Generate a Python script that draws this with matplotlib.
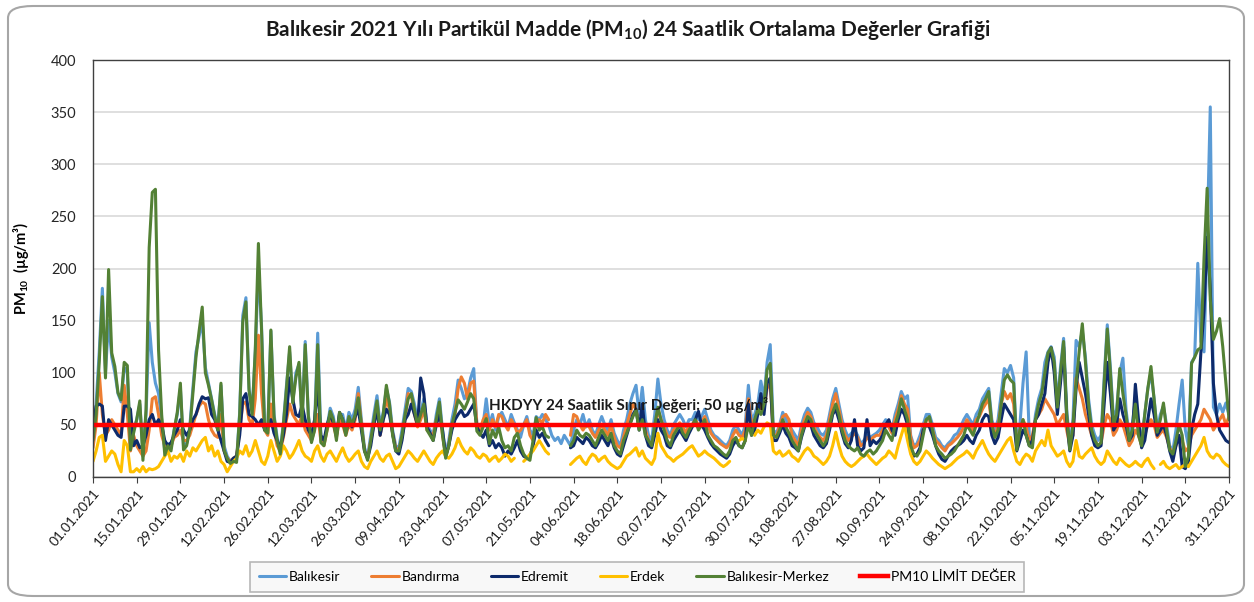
import numpy as np
import pandas as pd
import matplotlib.pyplot as plt
import matplotlib.dates as mdates
from matplotlib.patches import FancyBboxPatch

nan = np.nan

plt.rcParams['font.family'] = ['Lato', 'DejaVu Sans']
plt.rcParams['mathtext.fontset'] = 'custom'
plt.rcParams['mathtext.rm'] = 'Lato'
plt.rcParams['mathtext.bf'] = 'Lato:bold'

# Daily PM10 values, 01.01.2021 - 31.12.2021 (one row = 14 days)
balikesir = [
    40, 70, 120, 181, 100, 150, 115, 100, 80, 72, 105, 100, 30, 45,
    55, 70, 25, 60, 148, 110, 90, 80, 55, 25, 32, 28, 45, 60,
    85, 30, 32, 48, 85, 120, 135, 150, 105, 90, 75, 60, 48, 88,
    30, 20, 15, 18, 16, 62, 155, 172, 85, 62, 120, 200, 145, 50,
    45, 140, 60, 38, 25, 52, 88, 120, 72, 100, 108, 55, 130, 60,
    35, 50, 138, 40, 32, 48, 66, 58, 40, 60, 60, 45, 62, 55,
    65, 86, 55, 28, 20, 40, 60, 78, 50, 62, 85, 72, 45, 30,
    28, 45, 65, 85, 82, 70, 55, 62, 75, 50, 45, 40, 60, 75,
    45, 22, 35, 55, 70, 93, 85, 75, 80, 95, 104, 50, 48, 50,
    75, 50, 60, 45, 58, 62, 55, 48, 60, 52, 45, 38, 50, 58,
    45, 40, 58, 55, 60, 55, 50, 40, 35, 38, 32, 40, 35, 30,
    45, 55, 50, 60, 48, 55, 45, 40, 50, 58, 50, 45, 55, 42,
    35, 30, 45, 55, 70, 80, 88, 60, 86, 55, 40, 35, 60, 94,
    70, 55, 45, 40, 50, 55, 60, 55, 48, 55, 55, 62, 55, 58,
    65, 55, 45, 40, 38, 35, 32, 30, 35, 45, 50, 45, 40, 50,
    88, 55, 60, 70, 92, 75, 110, 127, 45, 42, 50, 62, 55, 50,
    45, 40, 35, 50, 60, 66, 62, 52, 48, 42, 40, 45, 60, 75,
    85, 70, 55, 45, 38, 42, 45, 40, 32, 35, 40, 38, 40, 42,
    45, 50, 55, 50, 45, 60, 70, 82, 75, 78, 40, 30, 32, 40,
    50, 60, 60, 50, 38, 35, 30, 28, 32, 35, 40, 42, 48, 55,
    60, 55, 50, 60, 65, 75, 80, 85, 55, 45, 55, 80, 104, 100,
    107, 95, 30, 50, 90, 120, 40, 35, 60, 75, 85, 110, 120, 125,
    115, 70, 105, 133, 65, 30, 55, 131, 125, 140, 115, 75, 50, 40,
    35, 40, 95, 146, 105, 55, 65, 100, 114, 65, 40, 50, 75, 45,
    35, 60, 85, 100, 75, 45, 60, 68, 50, 30, 25, 45, 70, 93,
    45, 30, 110, 115, 205, 130, 120, 230, 355, 67, 60, 70, 62, 71,
    60,
]

bandirma = [
    28, 50, 100, 60, 40, 45, 55, 50, 45, 40, 88, 60, 25, 40,
    30, 25, 20, 25, 45, 75, 77, 60, 40, 30, 28, 30, 38, 40,
    45, 35, 35, 40, 50, 60, 68, 72, 70, 55, 45, 40, 38, 60,
    25, 18, 15, 18, 20, 45, 70, 72, 55, 50, 75, 136, 80, 45,
    40, 70, 45, 30, 25, 38, 55, 70, 60, 55, 50, 60, 45, 40,
    35, 45, 60, 35, 30, 45, 55, 50, 38, 55, 50, 40, 50, 45,
    55, 80, 50, 25, 18, 35, 50, 68, 40, 55, 75, 65, 42, 28,
    25, 38, 55, 80, 78, 60, 48, 55, 65, 45, 42, 40, 55, 65,
    40, 20, 30, 50, 60, 85, 96, 90, 75, 90, 92, 50, 45, 55,
    60, 45, 55, 48, 60, 58, 50, 45, 55, 50, 42, 45, 50, 55,
    40, 35, 50, 55, 52, 60, 55, nan, nan, nan, nan, nan, nan, 40,
    60, 58, 50, 45, 50, 48, 42, 38, 45, 50, 45, 40, 50, 38,
    30, 28, 38, 50, 60, 70, 65, 50, 60, 45, 35, 30, 45, 65,
    55, 48, 40, 38, 45, 48, 52, 48, 42, 50, 50, 55, 50, 52,
    58, 50, 42, 38, 35, 32, 30, 28, 32, 40, 45, 40, 38, 45,
    75, 50, 55, 60, 70, 65, 85, 90, 40, 40, 48, 58, 60, 55,
    40, 35, 30, 45, 55, 62, 58, 48, 42, 38, 35, 40, 55, 70,
    80, 65, 50, 40, 35, 38, 42, 38, 30, 32, 38, 35, 38, 40,
    40, 45, 50, 48, 42, 55, 65, 78, 70, 65, 38, 28, 30, 35,
    45, 55, 55, 45, 35, 32, 28, 25, 30, 32, 35, 38, 42, 48,
    55, 50, 45, 55, 58, 65, 70, 75, 50, 40, 48, 70, 82, 75,
    80, 70, 30, 45, 55, 48, 35, 40, 55, 60, 65, 75, 70, 65,
    60, 50, 55, 60, 45, 30, 40, 95, 85, 75, 60, 50, 40, 35,
    30, 32, 50, 60, 55, 40, 45, 55, 50, 40, 30, 35, 45, 40,
    30, 40, 50, 55, 50, 38, 42, 45, 38, 28, 22, 30, 38, 35,
    25, 28, 40, 45, 50, 55, 65, 60, 55, 45, 50, 55, 60, 50,
    58,
]

edremit = [
    45, 68, 70, 68, 35, 55, 50, 45, 40, 38, 68, 68, 65, 30,
    35, 28, 30, 40, 55, 60, 50, 55, 50, 35, 30, 33, 40, 45,
    55, 45, 40, 45, 55, 60, 70, 77, 75, 76, 60, 55, 45, 35,
    25, 15, 14, 18, 20, 40, 75, 80, 60, 58, 55, 50, 55, 45,
    48, 55, 42, 35, 28, 40, 60, 95, 75, 60, 58, 69, 55, 45,
    40, 55, 88, 40, 35, 50, 60, 52, 40, 62, 55, 42, 55, 48,
    58, 65, 45, 25, 18, 30, 50, 65, 40, 55, 65, 60, 42, 25,
    22, 35, 55, 60, 70, 60, 50, 95, 80, 48, 42, 35, 50, 60,
    45, 20, 30, 45, 55, 60, 64, 58, 60, 65, 70, 48, 42, 38,
    45, 30, 35, 28, 32, 28, 20, 25, 22, 28, 35, 25, 20, 18,
    20, 30, 45, 38, 42, 35, 30, nan, nan, nan, nan, nan, nan, 28,
    30, 38, 35, 32, 38, 35, 30, 28, 33, 40, 35, 30, 38, 28,
    22, 20, 30, 40, 50, 60, 65, 45, 70, 40, 30, 28, 40, 55,
    45, 40, 30, 28, 35, 40, 45, 40, 35, 42, 48, 55, 63, 50,
    45, 38, 32, 28, 25, 22, 20, 18, 22, 30, 35, 30, 28, 35,
    70, 40, 45, 60, 80, 60, 90, 95, 35, 35, 42, 50, 42, 38,
    30, 28, 25, 38, 48, 55, 50, 40, 35, 30, 28, 32, 45, 60,
    65, 55, 42, 32, 28, 35, 55, 30, 25, 28, 55, 30, 35, 32,
    35, 40, 50, 55, 45, 40, 55, 65, 60, 50, 28, 20, 22, 28,
    45, 50, 48, 40, 30, 22, 17, 15, 20, 25, 28, 30, 32, 35,
    40, 35, 32, 40, 45, 55, 60, 58, 40, 32, 38, 55, 70, 65,
    60, 55, 25, 35, 45, 40, 30, 35, 55, 60, 70, 80, 110, 124,
    100, 60, 90, 125, 55, 25, 40, 85, 110, 95, 80, 60, 40, 30,
    28, 30, 70, 110, 80, 45, 50, 75, 60, 50, 35, 40, 89, 55,
    28, 35, 55, 75, 60, 40, 45, 50, 40, 25, 15, 30, 40, 10,
    8, 15, 45, 60, 70, 120, 160, 230, 180, 90, 60, 45, 40, 35,
    33,
]

erdek = [
    15, 25, 38, 40, 15, 20, 25, 22, 12, 5, 35, 30, 5, 5,
    8, 5, 10, 5, 8, 7, 8, 10, 15, 20, 25, 15, 20, 18,
    22, 15, 25, 20, 28, 25, 30, 35, 38, 25, 30, 20, 25, 15,
    12, 5, 10, 15, 18, 25, 22, 30, 20, 25, 35, 25, 15, 12,
    20, 35, 25, 15, 20, 30, 25, 18, 22, 28, 35, 25, 20, 18,
    15, 25, 30, 20, 15, 22, 25, 20, 15, 22, 28, 20, 15, 18,
    22, 25, 15, 10, 8, 15, 20, 25, 18, 15, 20, 22, 15, 8,
    10, 15, 20, 25, 22, 18, 15, 20, 25, 20, 15, 12, 18, 22,
    25, 20, 18, 22, 28, 37, 30, 25, 22, 28, 25, 20, 18, 22,
    20, 15, 18, 20, 15, 18, 22, 20, 15, 18, nan, nan, 15, 18,
    22, 25, 30, 35, 30, 25, 22, nan, nan, nan, nan, nan, nan, 12,
    15, 18, 20, 15, 12, 18, 22, 20, 15, 18, 20, 15, 12, 10,
    8, 10, 15, 20, 22, 25, 28, 20, 25, 18, 15, 12, 18, 42,
    30, 25, 20, 18, 15, 18, 20, 22, 25, 28, 30, 25, 20, 22,
    25, 22, 20, 18, 15, 12, 10, 12, 15, nan, nan, 35, 37, 35,
    nan, nan, 40, 45, 42, 48, 52, 50, 25, 22, 25, 20, 22, 25,
    20, 18, 15, 20, 25, 28, 25, 20, 18, 15, 12, 15, 20, 30,
    43, 30, 20, 15, 12, 10, 12, 15, 18, 20, 22, 18, 15, 12,
    15, 18, 20, 25, 22, 18, 30, 40, 50, 35, 22, 15, 12, 15,
    20, 25, 22, 18, 15, 12, 10, 8, 10, 12, 15, 18, 20, 22,
    25, 22, 18, 25, 30, 35, 28, 22, 18, 15, 20, 25, 30, 35,
    38, 25, 15, 12, 18, 22, 20, 15, 25, 30, 35, 30, 45, 30,
    25, 20, 22, 25, 15, 10, 15, 35, 20, 18, 22, 25, 28, 20,
    15, 12, 15, 25, 20, 15, 12, 18, 15, 12, 10, 12, 15, 12,
    10, 15, 18, 12, 8, nan, 12, 15, 10, 8, 10, 12, 8, 10,
    12, 10, 15, 20, 25, 30, 38, 25, 20, 18, 22, 20, 15, 12,
    10,
]

merkez = [
    35, 60, 110, 173, 95, 199, 119, 106, 81, 74, 110, 107, 26, 42,
    55, 73, 16, 65, 220, 273, 276, 122, 60, 21, 30, 25, 45, 62,
    90, 26, 30, 45, 80, 115, 140, 163, 100, 88, 74, 58, 45, 90,
    26, 18, 13, 15, 14, 60, 149, 168, 83, 60, 122, 224, 141, 45,
    42, 141, 58, 35, 22, 50, 85, 125, 71, 95, 110, 52, 127, 58,
    33, 45, 127, 33, 30, 45, 63, 55, 35, 62, 55, 40, 58, 50,
    60, 76, 50, 25, 16, 35, 55, 73, 45, 60, 88, 70, 40, 25,
    25, 40, 60, 75, 80, 65, 50, 60, 70, 45, 40, 35, 55, 72,
    40, 18, 30, 50, 62, 74, 70, 65, 72, 80, 75, 44, 40, 48,
    56, 32, 45, 38, 48, 35, 28, 30, 25, 38, 42, 30, 22, 18,
    16, 35, 57, 45, 48, 40, 38, nan, nan, nan, nan, nan, nan, 30,
    35, 45, 40, 38, 42, 40, 35, 30, 38, 45, 40, 35, 42, 30,
    25, 22, 35, 42, 50, 58, 64, 45, 55, 40, 35, 30, 50, 67,
    55, 45, 35, 30, 40, 45, 50, 42, 38, 45, 50, 55, 45, 50,
    55, 40, 35, 30, 28, 25, 22, 20, 25, 35, 38, 30, 28, 35,
    50, 40, 55, 65, 60, 70, 103, 109, 40, 38, 45, 55, 48, 42,
    35, 30, 25, 40, 50, 58, 55, 45, 40, 35, 30, 35, 50, 62,
    70, 60, 45, 35, 30, 27, 25, 28, 22, 20, 24, 26, 22, 25,
    30, 35, 45, 40, 35, 50, 60, 75, 65, 55, 30, 22, 20, 25,
    40, 55, 58, 45, 30, 25, 22, 18, 20, 22, 25, 30, 35, 40,
    50, 45, 40, 50, 60, 70, 75, 82, 50, 38, 45, 70, 93, 98,
    93, 90, 26, 45, 55, 40, 30, 28, 55, 70, 80, 100, 119, 124,
    110, 67, 100, 130, 60, 26, 50, 90, 120, 147, 110, 70, 45, 35,
    30, 33, 90, 142, 100, 50, 60, 104, 80, 60, 35, 45, 70, 40,
    30, 60, 85, 106, 75, 43, 55, 71, 45, 26, 22, 35, 50, 40,
    10, 20, 109, 115, 122, 124, 210, 277, 170, 132, 140, 152, 125, 90,
    55,
]

limit_value = 50
series_names = ['Balıkesir', 'Bandırma', 'Edremit', 'Erdek', 'Balıkesir-Merkez']
series_colors = ['#5B9BD5', '#ED7D31', '#0D2A6B', '#FFC000', '#538135']

dates = pd.date_range('2021-01-01', '2021-12-31', freq='D')
tick_dates = pd.date_range('2021-01-01', periods=27, freq='14D')

fig = plt.figure(figsize=(12.54, 6.02), dpi=100)

# outer chart border
fig.patches.append(FancyBboxPatch((8 / 1254, 6 / 602), 1236 / 1254, 590 / 602,
                                  boxstyle='round,pad=0,rounding_size=0.02',
                                  transform=fig.transFigure, facecolor='white',
                                  edgecolor='#a6a6a6', linewidth=1.5, zorder=-10))

ax = fig.add_axes([93 / 1254, 1 - 477 / 602, (1229 - 93) / 1254, (477 - 60) / 602])

for vals, name, color in zip([balikesir, bandirma, edremit, erdek, merkez],
                             series_names, series_colors):
    ax.plot(dates, vals, color=color, lw=2.2, label=name,
            solid_joinstyle='round', solid_capstyle='round')

ax.plot(dates, [limit_value] * len(dates), color='#FF0000', lw=3.2,
        label='PM10 LİMİT DEĞER')

ax.text(dates[127], 69, 'HKDYY 24 Saatlik Sınır Değeri: 50 µg/m³',
        fontsize=11, fontweight='bold', color='#1a1a1a', va='center')

ax.set_ylim(0, 400)
ax.set_yticks(range(0, 401, 50))
ax.set_xlim(dates[0], dates[-1])
ax.set_xticks(tick_dates)
ax.xaxis.set_major_formatter(mdates.DateFormatter('%d.%m.%Y'))
ax.yaxis.grid(True, color='#d9d9d9', lw=1.2)
ax.set_axisbelow(True)

ax.tick_params(axis='y', length=0, labelsize=10.5, pad=12, labelcolor='#262626')
ax.tick_params(axis='x', length=4, direction='out', labelsize=9.8,
               labelcolor='#1a1a1a', color='#404040', pad=3)
for lbl in ax.get_xticklabels():
    lbl.set_rotation(50)
    lbl.set_ha('right')
    lbl.set_rotation_mode('anchor')

for sp in ax.spines.values():
    sp.set_color('#404040')
    sp.set_linewidth(1.0)

ax.set_ylabel(r'PM$_{\mathbf{10}}$  (µg/m³)', fontsize=10.5, fontweight='bold',
              labelpad=14)

fig.text(628 / 1254, 1 - 30 / 602,
         r'Balıkesir 2021 Yılı Partikül Madde (PM$_{\mathbf{10}}$) 24 Saatlik Ortalama Değerler Grafiği',
         ha='center', va='center', fontsize=15, fontweight='bold', color='#1a1a1a')

leg = fig.legend(loc='center', bbox_to_anchor=(637 / 1254, 1 - 577 / 602), ncol=6,
                 fontsize=10, frameon=True, fancybox=False, edgecolor='#a6a6a6',
                 facecolor='#f7f7f7', handlelength=2.0, handletextpad=0.2,
                 columnspacing=2.2, borderpad=0.6)
leg.get_frame().set_linewidth(1.2)

fig.savefig('out.png', dpi=100)
